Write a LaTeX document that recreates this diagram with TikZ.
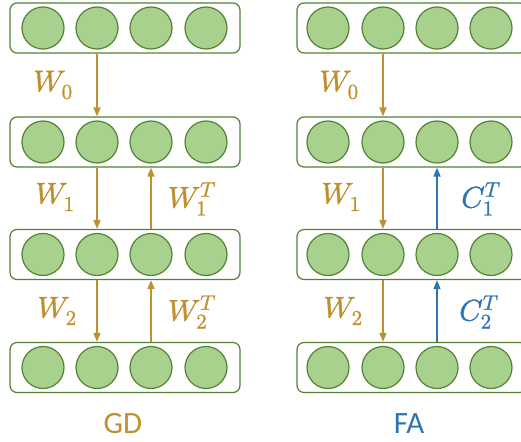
\documentclass[tikz,border=0pt]{standalone}
\usepackage{unicode-math}
\setmathfont{Latin Modern Math}[FakeBold=1.2]
\newfontfamily\labelfont{Carlito}
\usetikzlibrary{arrows.meta}
\definecolor{gold}{RGB}{191,144,48}
\definecolor{fablue}{RGB}{46,117,182}
\definecolor{nodegreen}{RGB}{169,209,142}
\definecolor{edgegreen}{RGB}{84,130,53}
\begin{document}
\begin{tikzpicture}[x=1pt,y=-1pt,
  layerbox/.style={draw=edgegreen, line width=1.2pt, fill=white, rounded corners=7pt,
    minimum width=230pt, minimum height=50pt, inner sep=0pt},
  unit/.style={circle, draw=edgegreen, line width=1.2pt, fill=nodegreen,
    minimum size=42pt, inner sep=0pt},
  flow/.style={line width=1.6pt, -{Triangle[length=9pt,width=7pt]}},
  wlabel/.style={font=\fontsize{30}{36}\selectfont, inner sep=0pt},
  caption/.style={font=\labelfont\fontsize{31}{36}\selectfont, inner sep=0pt}]
\useasboundingbox (0,0) rectangle (521,441);
\clip (0,0) rectangle (521,441);
\foreach \r/\y in {1/28,2/142,3/254.5,4/367.5} {
  \node[layerbox] (L\r) at (125,\y) {};
  \node[layerbox] (R\r) at (412,\y) {};
  \foreach \c/\x in {1/43,2/97,3/151,4/206}
    \node[unit] (L\r-\c) at (\x,\y) {};
  \foreach \c/\x in {1/328,2/383,3/437,4/491}
    \node[unit] (R\r-\c) at (\x,\y) {};
}
% GD column
\draw[flow,gold] (L1-2 |- L1.south) -- (L2-2 |- L2.north);
\draw[flow,gold] (L2-2 |- L2.south) -- (L3-2 |- L3.north);
\draw[flow,gold] (L3-2 |- L3.south) -- (L4-2 |- L4.north);
\draw[flow,gold] (L3-3 |- L3.north) -- (L2-3 |- L2.south);
\draw[flow,gold] (L4-3 |- L4.north) -- (L3-3 |- L3.south);
% FA column
\draw[flow,gold] (R1-2 |- R1.south) -- (R2-2 |- R2.north);
\draw[flow,gold] (R2-2 |- R2.south) -- (R3-2 |- R3.north);
\draw[flow,gold] (R3-2 |- R3.south) -- (R4-2 |- R4.north);
\draw[flow,fablue] (R3-3 |- R3.north) -- (R2-3 |- R2.south);
\draw[flow,fablue] (R4-3 |- R4.north) -- (R3-3 |- R3.south);
% labels
\node[wlabel,text=gold] (lw0) at (53,85) {$W_0$};
\node[wlabel,text=gold] (lw1) at (55,197) {$W_1$};
\node[wlabel,text=gold] (lw2) at (57,311) {$W_2$};
\node[wlabel,text=gold] (lw1t) at (192,199) {$W_1^T$};
\node[wlabel,text=gold] (lw2t) at (192,312) {$W_2^T$};
\node[wlabel,text=gold] (rw0) at (339,85) {$W_0$};
\node[wlabel,text=gold] (rw1) at (341,197) {$W_1$};
\node[wlabel,text=gold] (rw2) at (343,311) {$W_2$};
\node[wlabel,text=fablue] (rc1t) at (481,199) {$C_1^T$};
\node[wlabel,text=fablue] (rc2t) at (479,312) {$C_2^T$};
\node[caption,text=gold] (gd) at (123,424) {GD};
\node[caption,text=fablue] (fa) at (409,424) {FA};
\end{tikzpicture}
\end{document}
